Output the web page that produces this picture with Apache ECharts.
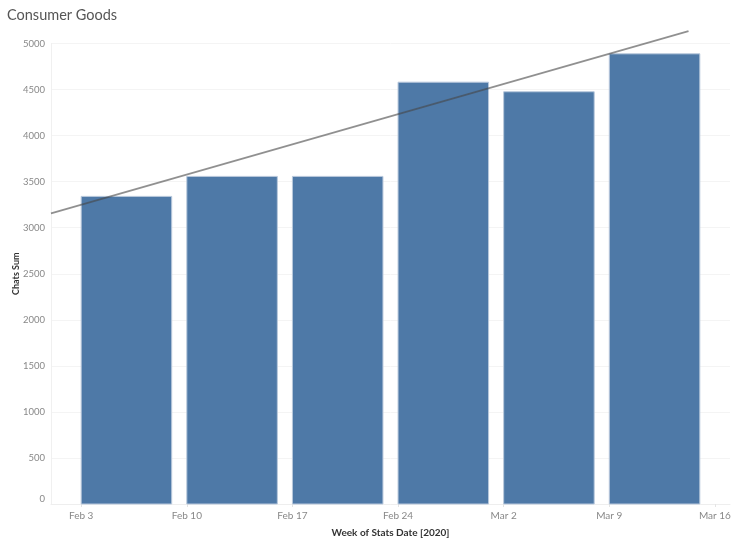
<!DOCTYPE html>
<html>
<head>
<meta charset="utf-8">
<script src="https://cdn.jsdelivr.net/npm/echarts@6/dist/echarts.min.js"></script>
<style>
  html, body { margin: 0; padding: 0; background: #fff; }
  #chart { width: 736px; height: 549px; }
</style>
</head>
<body>
<div id="chart"></div>
<script>
// week starts (Mondays) and chat totals
const weeks = ['2020-02-03', '2020-02-10', '2020-02-17', '2020-02-24', '2020-03-02', '2020-03-09'];
const chats = [3340, 3557, 3557, 4580, 4476, 4888];

// x tick labels
const tickDates = ['2020-02-03', '2020-02-10', '2020-02-17', '2020-02-24', '2020-03-02', '2020-03-09', '2020-03-16'];

// trend line end points
const trendDates = ['2020-02-01 00:00', '2020-03-14 06:00'];
const trendValues = [3155, 5135];

const months = ['Jan', 'Feb', 'Mar', 'Apr', 'May', 'Jun', 'Jul', 'Aug', 'Sep', 'Oct', 'Nov', 'Dec'];
const DAY = 24 * 3600 * 1000;
const BAR_DAYS = 6;

const toTime = (s) => {
    const [d, t] = s.split(' ');
    const [y, m, dd] = d.split('-').map(Number);
    const [hh, mm] = (t || '00:00').split(':').map(Number);
    return new Date(y, m - 1, dd, hh, mm).getTime();
}

const barData = weeks.map((w, i) => [toTime(w), toTime(w) + BAR_DAYS * DAY, chats[i]]);
const trendData = trendDates.map((d, i) => [toTime(d), trendValues[i]]);
const tickValues = tickDates.map(toTime);

function renderBar(params, api) {
    const start = api.coord([api.value(0), api.value(2)]);
    const end = api.coord([api.value(1), 0]);
    return {
        type: 'rect',
        shape: {
            x: start[0],
            y: start[1],
            width: end[0] - start[0],
            height: end[1] - start[1]
        },
        style: {
            fill: '#4e79a7',
            stroke: '#b9c9dc',
            lineWidth: 1
        }
    };
}

const chart = echarts.init(document.querySelector('#chart'));
chart.setOption({
    animation: false,
    textStyle: { fontFamily: 'Lato' },
    title: {
        text: 'Consumer Goods',
        left: 7,
        top: 8,
        padding: 0,
        textStyle: {
            fontFamily: 'Lato',
            fontSize: 14.5,
            fontWeight: 'normal',
            color: '#555'
        }
    },
    grid: {
        left: 51,
        right: 6,
        top: 43.5,
        bottom: 45,
        containLabel: false,
        outerBoundsMode: 'none'
    },
    xAxis: {
        type: 'value',
        min: toTime('2020-02-01'),
        max: toTime('2020-03-17'),
        name: 'Week of Stats Date [2020]',
        nameLocation: 'middle',
        nameGap: 24,
        nameMoveOverlap: false,
        nameTextStyle: {
            fontFamily: 'Lato',
            fontSize: 10,
            fontWeight: 'bold',
            color: '#333'
        },
        axisLine: { show: true, lineStyle: { color: '#eeeeee' } },
        axisTick: {
            show: true,
            customValues: tickValues,
            length: 3,
            lineStyle: { color: '#e4e4e4' }
        },
        axisLabel: {
            customValues: tickValues,
            margin: 7,
            fontSize: 10,
            color: '#888',
            formatter: (v) => {
                const d = new Date(v);
                return months[d.getMonth()] + ' ' + d.getDate();
            }
        },
        splitLine: { show: false }
    },
    yAxis: {
        type: 'value',
        min: 0,
        max: 5000,
        interval: 500,
        name: 'Chats Sum',
        nameLocation: 'middle',
        nameGap: 30,
        nameMoveOverlap: false,
        nameTextStyle: {
            fontFamily: 'Lato',
            fontSize: 9,
            fontWeight: 'bold',
            color: '#333'
        },
        axisLine: { show: true, lineStyle: { color: '#f0f0f0' } },
        axisTick: { show: false },
        axisLabel: {
            margin: 6,
            fontSize: 9.5,
            color: '#888',
            formatter: (v) => v === 0 ? '{z|0}' : String(v),
            rich: {
                z: { fontSize: 9.5, color: '#888', padding: [0, 0, 10, 0] }
            }
        },
        splitLine: { show: true, lineStyle: { color: '#f4f4f4' } }
    },
    series: [
        {
            type: 'custom',
            renderItem: renderBar,
            encode: { x: [0, 1], y: 2 },
            data: barData
        },
        {
            type: 'line',
            data: trendData,
            symbol: 'none',
            clip: false,
            z: 5,
            lineStyle: {
                color: 'rgba(70, 70, 70, 0.6)',
                width: 1.7
            }
        }
    ]
});
</script>
</body>
</html>
